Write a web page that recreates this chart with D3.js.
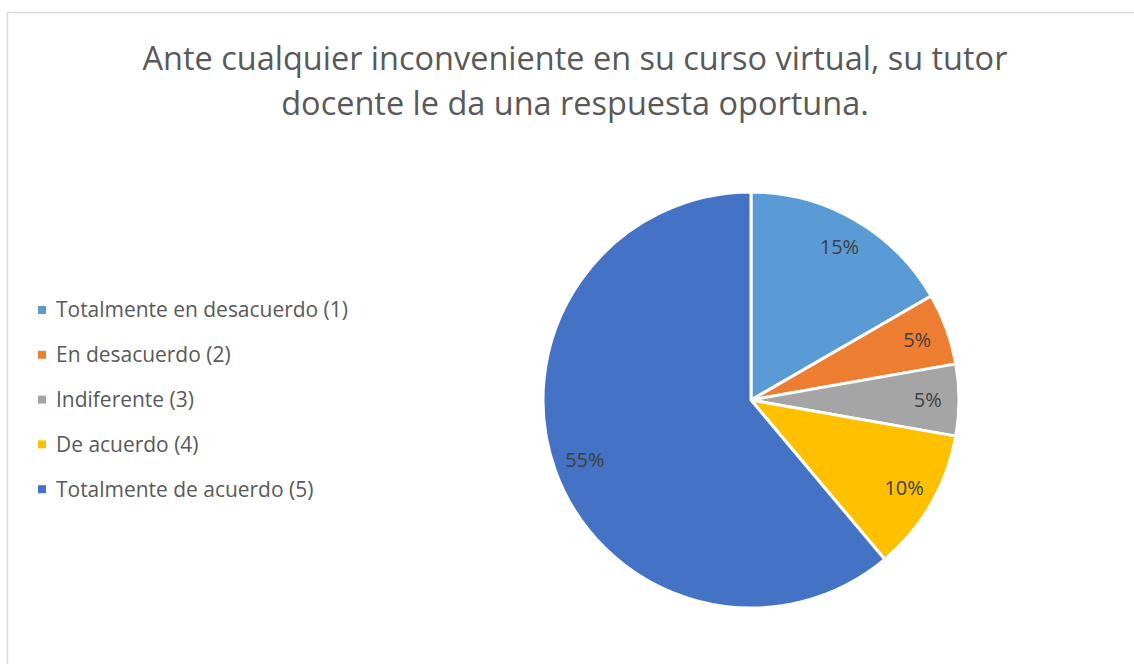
<!DOCTYPE html>
<html>
<head>
<meta charset="utf-8">
<script src="https://cdn.jsdelivr.net/npm/d3@7"></script>
<style>
  html, body { margin: 0; padding: 0; background: #fff; }
  svg { display: block; font-family: "Open Sans", "Noto Sans", sans-serif; }
</style>
</head>
<body>
<div id="chart"></div>
<script>
const titleLines = ['Ante cualquier inconveniente en su curso virtual, su tutor', 'docente le da una respuesta oportuna.'];
const categories = ['Totalmente en desacuerdo (1)', 'En desacuerdo (2)', 'Indiferente (3)', 'De acuerdo (4)', 'Totalmente de acuerdo (5)'];
const values = [15, 5, 5, 10, 55];
const colors = ['#5B9BD5', '#ED7D31', '#A5A5A5', '#FFC000', '#4472C4'];

const width = 1134, height = 664;
const cx = 751, cy = 400, radius = 208;

const svg = d3.select('#chart').append('svg')
  .attr('width', width)
  .attr('height', height);

// chart area border
svg.append('rect')
  .attr('x', 7.5).attr('y', 12.5)
  .attr('width', width + 20).attr('height', height + 20)
  .attr('fill', '#fff')
  .attr('stroke', '#d9d9d9')
  .attr('stroke-width', 1.5);

// title
const title = svg.append('g').attr('class', 'title');
title.selectAll('text')
  .data(titleLines)
  .enter()
  .append('text')
  .attr('x', 575)
  .attr('y', (d, i) => 70 + i * 45)
  .attr('text-anchor', 'middle')
  .attr('fill', '#595959')
  .style('font-size', '30px')
  .text(d => d);
// fit the first line to the width in the picture
const w0 = title.select('text').node().getComputedTextLength();
title.selectAll('text').style('font-size', (30 * 865 / w0).toFixed(2) + 'px');

// pie
const pie = d3.pie().sort(null).value(d => d);
const arc = d3.arc().innerRadius(0).outerRadius(radius);
const labelArc = d3.arc().innerRadius(radius * 0.85).outerRadius(radius * 0.85);

const g = svg.append('g').attr('transform', `translate(${cx},${cy})`);
const arcs = pie(values);

g.selectAll('path')
  .data(arcs)
  .enter()
  .append('path')
  .attr('d', arc)
  .attr('fill', (d, i) => colors[i])
  .attr('stroke', '#fff')
  .attr('stroke-width', 3)
  .attr('stroke-linejoin', 'round');

g.selectAll('text.lbl')
  .data(arcs)
  .enter()
  .append('text')
  .attr('class', 'lbl')
  .attr('transform', d => `translate(${labelArc.centroid(d)})`)
  .attr('text-anchor', 'middle')
  .attr('dy', '0.35em')
  .attr('fill', '#404040')
  .style('font-size', '20px')
  .text(d => d.data + '%');

// legend
const legend = svg.append('g').attr('class', 'legend');
const rows = legend.selectAll('g')
  .data(categories)
  .enter()
  .append('g')
  .attr('transform', (d, i) => `translate(38, ${310 + i * 44.8})`);

rows.append('rect')
  .attr('x', 0).attr('y', -4)
  .attr('width', 8).attr('height', 8)
  .attr('fill', (d, i) => colors[i]);

rows.append('text')
  .attr('x', 18)
  .attr('dy', '0.35em')
  .attr('fill', '#595959')
  .style('font-size', '18px')
  .text(d => d);

const lw = legend.select('text').node().getComputedTextLength();
legend.selectAll('text').style('font-size', (18 * 292 / lw).toFixed(2) + 'px');
</script>
</body>
</html>
